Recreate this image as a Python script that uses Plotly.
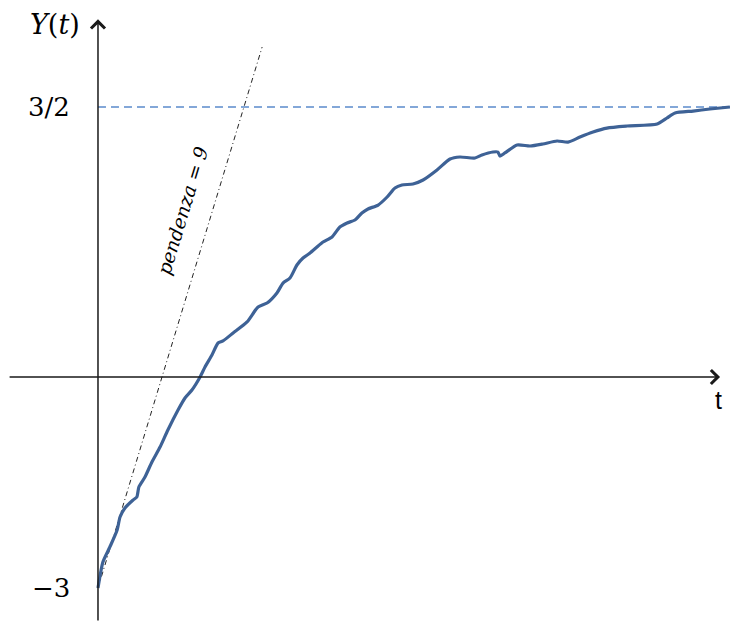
import plotly.graph_objects as go

# Curve Y(t)
t_vals = [0.000, 0.017, 0.041, 0.066, 0.076, 0.093, 0.121, 0.134, 0.141, 0.162,
          0.186, 0.214, 0.241, 0.276, 0.300, 0.324, 0.352, 0.369, 0.393, 0.414,
          0.431, 0.466, 0.514, 0.552, 0.583, 0.617, 0.638, 0.662, 0.686, 0.707,
          0.731, 0.755, 0.776, 0.807, 0.834, 0.859, 0.886, 0.910, 0.931, 0.966,
          0.997, 1.024, 1.048, 1.086, 1.121, 1.169, 1.214, 1.248, 1.300, 1.324,
          1.362, 1.379, 1.386, 1.403, 1.445, 1.490, 1.534, 1.583, 1.621, 1.662,
          1.707, 1.755, 1.824, 1.928, 1.962, 1.990, 2.052, 2.110, 2.179]
y_vals = [-3.000, -2.757, -2.616, -2.457, -2.336, -2.252, -2.177, -2.149, -2.055, -1.962,
          -1.821, -1.681, -1.522, -1.335, -1.222, -1.148, -1.026, -0.932, -0.820, -0.708,
          -0.689, -0.614, -0.511, -0.371, -0.334, -0.240, -0.147, -0.100, 0.022, 0.087,
          0.134, 0.190, 0.237, 0.284, 0.377, 0.415, 0.443, 0.508, 0.546, 0.583,
          0.658, 0.742, 0.770, 0.780, 0.817, 0.911, 1.013, 1.032, 1.023, 1.051,
          1.079, 1.079, 1.041, 1.070, 1.144, 1.135, 1.154, 1.182, 1.172, 1.219,
          1.266, 1.303, 1.322, 1.341, 1.397, 1.444, 1.462, 1.481, 1.500]

# Tangent line at t=0 (slope 9)
tangent_t = [0.0, 0.566]
tangent_y = [-3.0, 2.061]

# Asymptote
asym_t = [0.0, 2.179]
asym_y = [1.5, 1.5]

# Tick labels
ytick_vals = [1.5, -3.0]
ytick_text = ["3/2", "\u22123"]

# Axes geometry (in data units)
x_axis_y = -1.026
x_axis_from, x_axis_to = -0.310, 2.145
y_axis_from, y_axis_to = -3.318, 2.320

x_range = [-0.3379, 2.1862]
y_range = [-3.318, 2.501]

fig = go.Figure()

fig.add_trace(go.Scatter(x=asym_t, y=asym_y, mode="lines",
                         line=dict(color="#5B8BCB", width=1.5, dash="8px,5px"),
                         hoverinfo="skip", showlegend=False))
fig.add_trace(go.Scatter(x=tangent_t, y=tangent_y, mode="lines",
                         line=dict(color="#222222", width=1, dash="5px,3px,1px,3px"),
                         hoverinfo="skip", showlegend=False))
fig.add_trace(go.Scatter(x=t_vals, y=y_vals, mode="lines",
                         line=dict(color="#3E6296", width=3.2, shape="spline", smoothing=0.6),
                         hoverinfo="skip", showlegend=False))

annotations = []
# x axis arrow
annotations.append(dict(x=x_axis_to, y=x_axis_y, ax=x_axis_from, ay=x_axis_y,
                        xref="x", yref="y", axref="x", ayref="y", text="",
                        showarrow=True, arrowhead=4, arrowsize=1.8, arrowwidth=1.5,
                        arrowcolor="#1a1a1a", standoff=0))
# y axis arrow
annotations.append(dict(x=0, y=y_axis_to, ax=0, ay=y_axis_from,
                        xref="x", yref="y", axref="x", ayref="y", text="",
                        showarrow=True, arrowhead=4, arrowsize=1.8, arrowwidth=1.5,
                        arrowcolor="#1a1a1a", standoff=0))
# tick labels
for v, s in zip(ytick_vals, ytick_text):
    annotations.append(dict(x=-0.0897, y=v, xref="x", yref="y", text=s, showarrow=False,
                            xanchor="right", yanchor="middle",
                            font=dict(family="DejaVu Serif", size=26, color="black")))
# axis titles
annotations.append(dict(x=-0.055, y=2.27, xref="x", yref="y", text="<i>Y</i>(<i>t</i>)",
                        showarrow=False, xanchor="right", yanchor="middle",
                        font=dict(family="DejaVu Serif", size=27, color="black")))
annotations.append(dict(x=2.141, y=-1.24, xref="x", yref="y", text="t",
                        showarrow=False, xanchor="center", yanchor="middle",
                        font=dict(family="Liberation Sans", size=25, color="black")))
# slope label
annotations.append(dict(x=0.290, y=0.530, xref="x", yref="y",
                        text="<i>pendenza = 9</i>", showarrow=False, textangle=-73,
                        xanchor="center", yanchor="middle",
                        font=dict(family="DejaVu Serif", size=19, color="black")))

fig.update_layout(
    width=732, height=622,
    margin=dict(l=0, r=0, t=0, b=0),
    paper_bgcolor="white", plot_bgcolor="white",
    xaxis=dict(range=x_range, visible=False, fixedrange=True),
    yaxis=dict(range=y_range, visible=False, fixedrange=True),
    annotations=annotations,
    showlegend=False,
)

fig.write_html("out.html", config={"displayModeBar": False},
               post_script="document.body.style.margin='0';document.body.style.padding='0';")
